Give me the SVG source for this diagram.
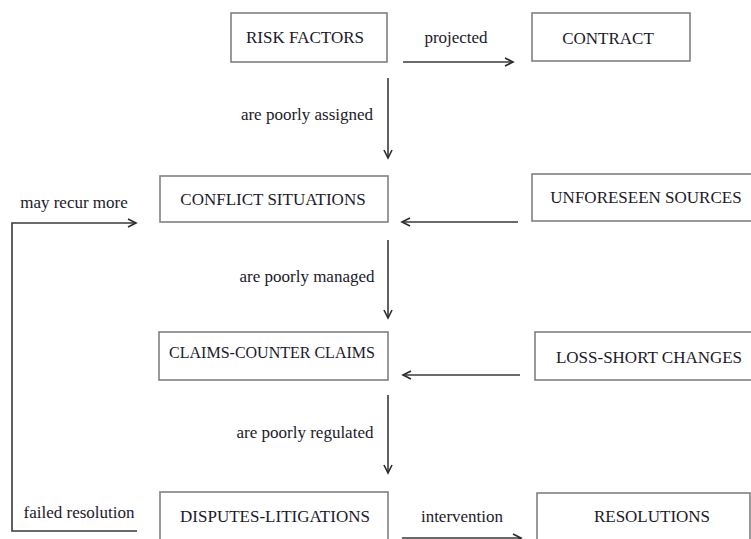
<svg xmlns="http://www.w3.org/2000/svg" width="751" height="539" viewBox="0 0 751 539">
<style>
.box{fill:#fff;stroke:#808080;stroke-width:1.6}
.t{font-family:'Liberation Serif',Tinos,'Times New Roman',Times,serif;font-size:17px;fill:#1a1a2a;text-anchor:middle}
.c{fill:none;stroke:#3a3a3a;stroke-width:1.6}
</style>
<defs>
<marker id="ah" viewBox="0 0 12 12" refX="10" refY="6" markerWidth="12" markerHeight="12" markerUnits="userSpaceOnUse" orient="auto">
<path d="M2,2 L10,6 L2,10" fill="none" stroke="#2a2a2a" stroke-width="1.6"/>
</marker>
</defs>
<rect width="751" height="539" fill="#fff"/>
<g id="risk-factors"><rect class="box" x="231" y="13" width="156" height="49"/><text class="t" x="305" y="43">RISK FACTORS</text></g>
<g id="contract"><rect class="box" x="532" y="13" width="158" height="48"/><text class="t" x="608" y="44">CONTRACT</text></g>
<g id="conflict-situations"><rect class="box" x="160" y="176" width="228" height="46"/><text class="t" x="273" y="205">CONFLICT SITUATIONS</text></g>
<g id="unforeseen-sources"><rect class="box" x="532" y="174" width="230" height="47"/><text class="t" x="646" y="203">UNFORESEEN SOURCES</text></g>
<g id="claims-counter-claims"><rect class="box" x="159" y="332" width="229" height="48"/><text class="t" x="272" y="358" style="font-size:16px">CLAIMS-COUNTER CLAIMS</text></g>
<g id="loss-short-changes"><rect class="box" x="535" y="332" width="230" height="48"/><text class="t" x="649" y="363">LOSS-SHORT CHANGES</text></g>
<g id="disputes-litigations"><rect class="box" x="160" y="492" width="228" height="60"/><text class="t" x="275" y="522">DISPUTES-LITIGATIONS</text></g>
<g id="resolutions"><rect class="box" x="537" y="493" width="213" height="60"/><text class="t" x="652" y="522">RESOLUTIONS</text></g>
<g id="connectors">
<line class="c" x1="403" y1="62" x2="513" y2="62" marker-end="url(#ah)"/>
<text class="t" x="456" y="43">projected</text>
<line class="c" x1="388" y1="78" x2="388" y2="158" marker-end="url(#ah)"/>
<text class="t" x="307" y="120">are poorly assigned</text>
<line class="c" x1="518" y1="222" x2="402" y2="222" marker-end="url(#ah)"/>
<line class="c" x1="388" y1="240" x2="388" y2="318" marker-end="url(#ah)"/>
<text class="t" x="307" y="282">are poorly managed</text>
<line class="c" x1="520" y1="375" x2="403" y2="375" marker-end="url(#ah)"/>
<line class="c" x1="388" y1="395" x2="388" y2="473" marker-end="url(#ah)"/>
<text class="t" x="305" y="438">are poorly regulated</text>
<line class="c" x1="402" y1="538" x2="521" y2="538" marker-end="url(#ah)"/>
<text class="t" x="462" y="522">intervention</text>
<polyline class="c" points="137,531 12,531 12,223 136,223" marker-end="url(#ah)"/>
<text class="t" x="74" y="208">may recur more</text>
<text class="t" x="79" y="518">failed resolution</text>
</g>
</svg>
